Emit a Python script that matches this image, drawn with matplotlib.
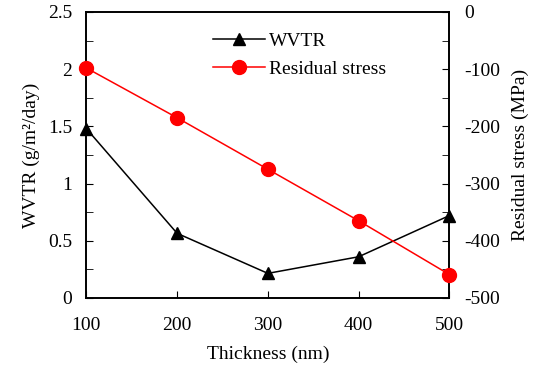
import matplotlib.pyplot as plt
from matplotlib.ticker import MultipleLocator

plt.rcParams['font.family'] = ['Liberation Serif', 'DejaVu Serif']
plt.rcParams['font.size'] = 14
plt.rcParams['axes.unicode_minus'] = False

thickness = [100, 200, 300, 400, 500]
wvtr = [1.48, 0.565, 0.215, 0.36, 0.72]
stress = [-98, -185, -275, -365, -459]

fig = plt.figure(figsize=(5.5, 3.72), dpi=100)
ax = fig.add_axes([0.157, 0.199, 0.66, 0.769])
ax2 = ax.twinx()

l1, = ax.plot(thickness, wvtr, '-^', color='black', lw=1.1, ms=8, clip_on=False, zorder=3, label='WVTR')
l2, = ax2.plot(thickness, stress, '-o', color='#ff0000', lw=1.1, ms=10, clip_on=False, zorder=3,
               label='Residual stress')

ax.set_xlim(100, 500)
ax.set_ylim(0, 2.5)
ax2.set_ylim(-500, 0)
ax.xaxis.set_major_locator(MultipleLocator(100))
ax.yaxis.set_minor_locator(MultipleLocator(0.25))
ax2.yaxis.set_major_locator(MultipleLocator(100))
ax2.yaxis.set_minor_locator(MultipleLocator(50))
ax.set_yticks([0, 0.5, 1, 1.5, 2, 2.5], ['0', '0.5', '1', '1.5', '2', '2.5'])

ax.tick_params(axis='x', direction='in', length=5, pad=14)
ax.tick_params(axis='y', which='both', direction='in', length=5, pad=10)
ax2.tick_params(axis='y', which='both', direction='in', length=5, pad=11)
for a in (ax, ax2):
    for s in a.spines.values():
        s.set_linewidth(1.2)

ax.set_xlabel('Thickness (nm)', labelpad=8)
ax.set_ylabel('WVTR (g/m²/day)', labelpad=6)
ax2.set_ylabel('Residual stress (MPa)', labelpad=8)

ax.legend([l1, l2], ['WVTR', 'Residual stress'], loc='upper left', bbox_to_anchor=(0.3, 0.99),
          frameon=False, handlelength=2.7, labelspacing=0.55, handletextpad=0.2)

fig.savefig('out.png', dpi=100)
